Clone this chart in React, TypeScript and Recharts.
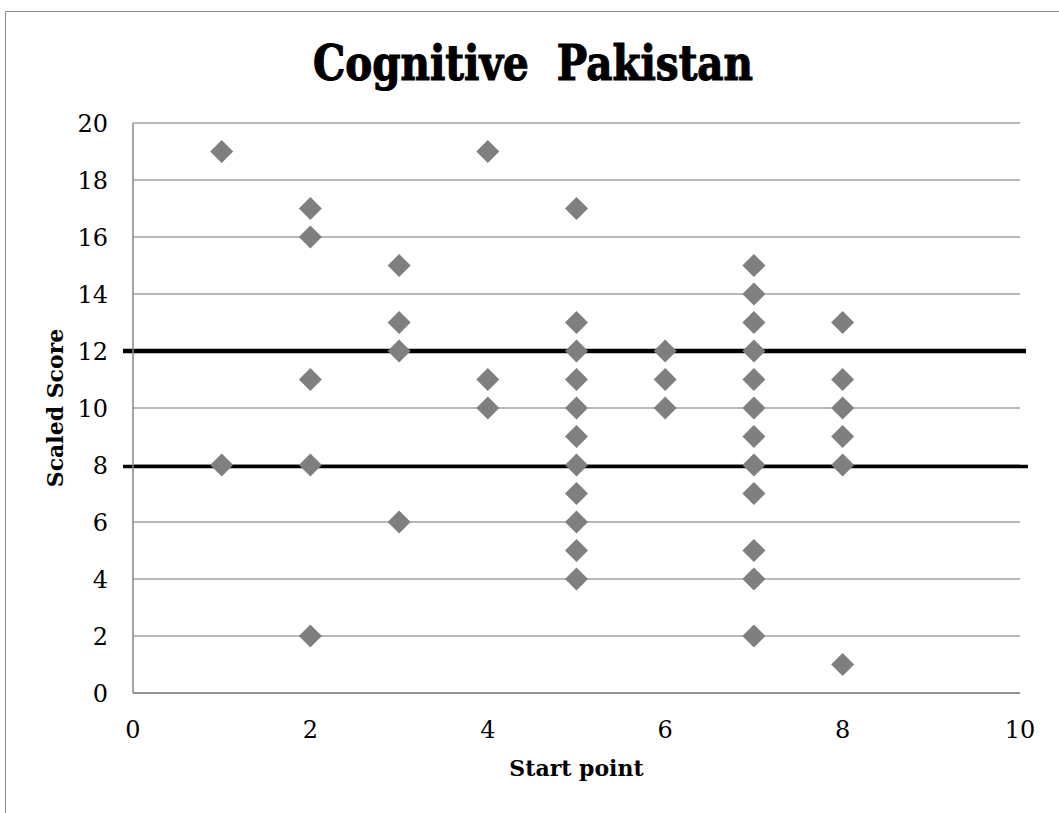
import { ScatterChart, Scatter, XAxis, YAxis, CartesianGrid, ReferenceLine } from 'recharts'

// start point -> scaled scores
const startPoints = [1, 2, 3, 4, 5, 6, 7, 8]
const scoresByStart = [
  [19, 8],
  [17, 16, 11, 8, 2],
  [15, 13, 12, 6],
  [19, 11, 10],
  [17, 13, 12, 11, 10, 9, 8, 7, 6, 5, 4],
  [12, 11, 10],
  [15, 14, 13, 12, 11, 10, 9, 8, 7, 5, 4, 2],
  [13, 11, 10, 9, 8, 1],
]
const xTicks = [0, 2, 4, 6, 8, 10]
const yTicks = [0, 2, 4, 6, 8, 10, 12, 14, 16, 18, 20]
const upperBand = 12
const lowerBand = 7.95

const points = startPoints.flatMap((x, i) => scoresByStart[i].map((y) => ({ x, y })))

const FONT = '"DejaVu Serif", serif'

const Diamond = (p: any) => {
  const { cx, cy } = p
  const r = 11.5
  return <polygon points={`${cx},${cy - r} ${cx + r},${cy} ${cx},${cy + r} ${cx - r},${cy}`} fill="#7f7f7f" />
}

const bandLine = (w: number, extL: number, extR: number) => (p: any) => (
  <line x1={p.x1 - extL} x2={p.x2 + extR} y1={p.y1} y2={p.y2} stroke="#000" strokeWidth={w} />
)

export default function App() {
  return (
    <div style={{ position: 'absolute', left: 0, top: 0, width: 1059, height: 813, overflow: 'hidden', background: '#fff' }}>
      <div style={{ position: 'absolute', left: 5, top: 11, width: 1100, height: 900, border: '1.5px solid #8c8c8c' }} />
      <svg width={1059} height={100} style={{ position: 'absolute', left: 0, top: 0 }}>
        <text x={533} y={80} textAnchor="middle" fontFamily={FONT} fontWeight="bold" fontSize={48}
          textLength={440} lengthAdjust="spacingAndGlyphs" fill="#000" stroke="#000" strokeWidth={1.2}
          style={{ whiteSpace: 'pre' }}>
          {'Cognitive\u00a0\u00a0Pakistan'}
        </text>
      </svg>
      <div style={{ position: 'absolute', left: 0, top: 0 }}>
        <ScatterChart width={1059} height={813} margin={{ top: 123, right: 39, bottom: 30, left: 53 }}>
          <CartesianGrid vertical={false} stroke="#a0a0a0" strokeWidth={1.3} />
          <XAxis
            type="number"
            dataKey="x"
            domain={[0, 10]}
            ticks={xTicks}
            height={90}
            tickLine={false}
            tickSize={0}
            tickMargin={28}
            axisLine={{ stroke: '#868686', strokeWidth: 1.5 }}
            tick={{ fontSize: 24, fill: '#000', fontFamily: FONT }}
            label={{ value: 'Start point', position: 'insideBottom', offset: 7, fontSize: 22, fontWeight: 'bold', fill: '#000', fontFamily: FONT }}
          />
          <YAxis
            type="number"
            dataKey="y"
            domain={[0, 20]}
            ticks={yTicks}
            width={80}
            tickLine={false}
            tickSize={0}
            tickMargin={25}
            axisLine={{ stroke: '#868686', strokeWidth: 1.5 }}
            tick={{ fontSize: 24, fill: '#000', fontFamily: FONT }}
            label={{ value: 'Scaled Score', angle: -90, position: 'insideLeft', offset: 2, fontSize: 22, fontWeight: 'bold', fill: '#000', fontFamily: FONT, style: { textAnchor: 'middle' } }}
          />
          <Scatter data={points} shape={Diamond} isAnimationActive={false} />
          <ReferenceLine y={upperBand} ifOverflow="visible" shape={bandLine(4.5, 10, 6)} />
          <ReferenceLine y={lowerBand} ifOverflow="visible" shape={bandLine(3.5, 10, 8)} />
        </ScatterChart>
      </div>
    </div>
  )
}
